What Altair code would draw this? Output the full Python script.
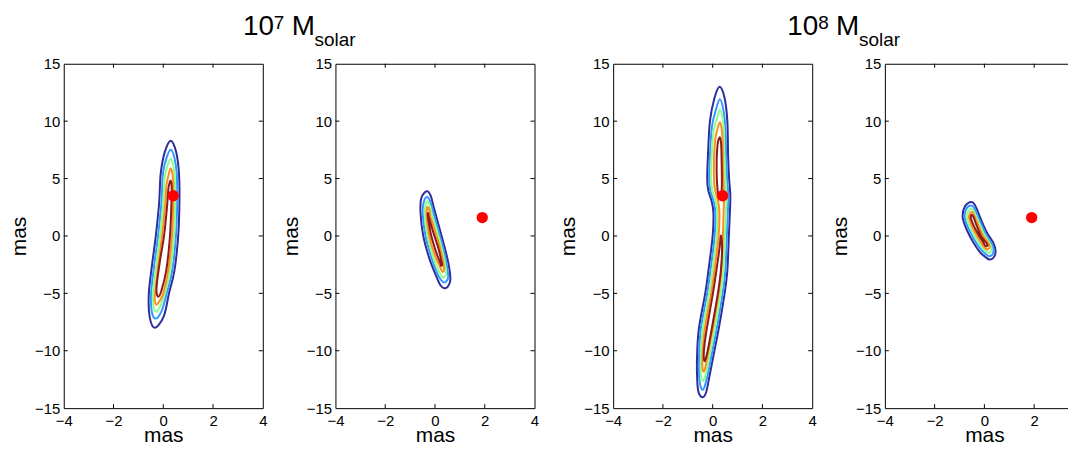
import altair as alt
import pandas as pd

FONT = "Liberation Sans"
X_TICKS = [-4, -2, 0, 2, 4]
Y_TICKS = [-15, -10, -5, 0, 5, 10, 15]
INNER_X_TICKS = [-2, 0, 2]
INNER_Y_TICKS = [-10, -5, 0, 5, 10]
LEVELS = ["c1", "c2", "c3", "c4", "c5"]
LEVEL_COLORS = ["#2d2d9c", "#3399ff", "#8cff88", "#ff8c1e", "#8c1c1c"]
TITLE_BIG = ["10", "10"]
TITLE_SUP = ["7", "8"]
TITLE_M = ["M", "M"]
TITLE_SUB = ["solar", "solar"]

# ---- panel 1 (10^7, left) ----
p1_c1 = [(0.30, 8.3), (0.52, 7.3), (0.63, 5.5), (0.65, 3.0), (0.60, 0.0), (0.45, -3.0),
         (0.23, -5.0), (0.02, -7.0), (-0.34, -8.0), (-0.55, -7.0), (-0.58, -5.0),
         (-0.45, -2.5), (-0.30, 0.0), (-0.18, 2.5), (-0.15, 3.5), (-0.10, 5.5), (0.06, 7.3)]
p1_c2 = [(0.30, 7.5), (0.45, 6.8), (0.54, 5.5), (0.56, 3.0), (0.51, 0.0), (0.36, -3.0),
         (0.14, -5.0), (-0.06, -6.5), (-0.30, -7.2), (-0.46, -6.6), (-0.49, -5.0),
         (-0.36, -2.5), (-0.21, 0.0), (-0.09, 2.5), (-0.06, 3.5), (-0.01, 5.5), (0.13, 6.8)]
p1_c3 = [(0.30, 6.7), (0.40, 6.2), (0.46, 5.2), (0.48, 3.0), (0.43, 0.0), (0.28, -3.0),
         (0.06, -5.0), (-0.12, -6.1), (-0.28, -6.6), (-0.39, -6.1), (-0.41, -5.0),
         (-0.28, -2.5), (-0.13, 0.0), (-0.01, 2.5), (0.02, 3.5), (0.06, 5.2), (0.18, 6.2)]
p1_c4 = [(0.30, 5.9), (0.37, 5.4), (0.40, 4.5), (0.40, 3.0), (0.35, 0.0), (0.20, -3.0),
         (0.00, -5.0), (-0.16, -5.7), (-0.27, -6.0), (-0.34, -5.6), (-0.33, -5.0),
         (-0.20, -2.5), (-0.05, 0.0), (0.07, 2.5), (0.10, 3.5), (0.14, 4.6), (0.22, 5.4)]
p1_c5 = [(0.30, 4.8), (0.34, 4.3), (0.33, 3.0), (0.27, 0.0), (0.12, -3.0), (-0.08, -4.8),
         (-0.20, -5.3), (-0.27, -4.9), (-0.25, -4.0), (-0.12, -2.0), (0.03, 0.0),
         (0.15, 2.5), (0.20, 4.0), (0.25, 4.6)]
p1_dot = (0.4, 3.5)

# ---- panel 2 (10^7, right) ----
p2_c1 = [(-0.33, 3.9), (-0.17, 3.5), (-0.05, 2.5), (0.14, 1.0), (0.39, -1.0), (0.55, -2.5),
         (0.62, -3.8), (0.52, -4.4), (0.37, -4.55), (0.22, -4.3), (0.05, -3.5),
         (-0.22, -2.0), (-0.47, 0.0), (-0.58, 2.0), (-0.55, 3.3)]
p2_c2 = [(-0.32, 3.4), (-0.19, 3.0), (-0.10, 2.3), (0.08, 0.9), (0.32, -1.0), (0.47, -2.5),
         (0.53, -3.6), (0.45, -3.95), (0.35, -4.05), (0.25, -3.85), (0.10, -3.3),
         (-0.14, -1.9), (-0.38, 0.0), (-0.49, 1.9), (-0.46, 2.9)]
p2_c3 = [(-0.31, 3.0), (-0.20, 2.6), (-0.14, 2.0), (0.03, 0.8), (0.26, -1.0), (0.40, -2.4),
         (0.44, -3.3), (0.38, -3.55), (0.33, -3.65), (0.26, -3.45), (0.14, -3.0),
         (-0.08, -1.8), (-0.30, 0.0), (-0.41, 1.8), (-0.39, 2.6)]
p2_c4 = [(-0.30, 2.55), (-0.22, 2.2), (-0.18, 1.7), (-0.02, 0.6), (0.20, -1.0), (0.33, -2.3),
         (0.36, -2.95), (0.32, -3.15), (0.26, -3.0), (0.18, -2.6), (-0.02, -1.6),
         (-0.23, 0.0), (-0.33, 1.6), (-0.33, 2.25)]
p2_c5 = [(-0.28, 2.0), (-0.24, 1.6), (-0.08, 0.4), (0.14, -1.1), (0.26, -2.2), (0.29, -2.5),
         (0.25, -2.6), (0.20, -2.3), (0.03, -1.3), (-0.16, 0.1), (-0.26, 1.3), (-0.29, 1.8)]
p2_dot = (1.9, 1.6)

# ---- panel 3 (10^8, left) ----
p3_c1 = [(0.28, 13.0), (0.48, 12.0), (0.59, 10.0), (0.62, 7.0), (0.66, 5.0), (0.71, 3.5),
         (0.69, 2.0), (0.65, 0.0), (0.59, -3.0), (0.48, -5.0), (0.25, -8.0), (0.07, -10.0),
         (-0.11, -12.0), (-0.26, -13.6), (-0.41, -14.05), (-0.58, -13.5), (-0.63, -12.0),
         (-0.62, -10.0), (-0.55, -8.0), (-0.30, -5.0), (-0.17, -3.0), (0.0, 0.0), (0.03, 2.0),
         (-0.04, 3.0), (-0.18, 4.0), (-0.22, 5.0), (-0.19, 7.0), (-0.11, 10.0), (0.07, 12.0)]
p3_c2 = [(0.29, 11.9), (0.43, 11.0), (0.51, 9.5), (0.54, 7.0), (0.58, 5.0), (0.63, 3.5),
         (0.61, 2.0), (0.57, 0.0), (0.51, -3.0), (0.40, -5.0), (0.17, -8.0), (-0.01, -10.0),
         (-0.19, -12.0), (-0.32, -13.1), (-0.40, -13.4), (-0.50, -13.0), (-0.55, -12.0),
         (-0.54, -10.0), (-0.47, -8.0), (-0.22, -5.0), (-0.09, -3.0), (0.08, 0.0), (0.11, 2.0),
         (0.04, 3.0), (-0.10, 4.0), (-0.14, 5.0), (-0.11, 7.0), (-0.03, 9.5), (0.13, 11.0)]
p3_c3 = [(0.29, 11.0), (0.40, 10.2), (0.45, 9.0), (0.47, 7.0), (0.51, 5.0), (0.55, 3.5),
         (0.53, 2.0), (0.49, 0.0), (0.43, -3.0), (0.32, -5.0), (0.09, -8.0), (-0.09, -10.0),
         (-0.25, -11.8), (-0.37, -12.6), (-0.46, -12.3), (-0.48, -11.5), (-0.46, -10.0),
         (-0.39, -8.0), (-0.14, -5.0), (-0.01, -3.0), (0.16, 0.0), (0.19, 2.0), (0.12, 3.0),
         (-0.02, 4.0), (-0.06, 5.0), (-0.04, 7.0), (0.03, 9.0), (0.17, 10.2)]
p3_c4 = [(0.29, 9.9), (0.37, 9.2), (0.40, 8.0), (0.41, 6.0), (0.44, 4.5), (0.46, 3.5),
         (0.44, 2.0), (0.41, 0.0), (0.35, -3.0), (0.24, -5.0), (0.01, -8.0), (-0.17, -10.0),
         (-0.28, -11.3), (-0.35, -11.8), (-0.41, -11.5), (-0.40, -10.0), (-0.31, -8.0),
         (-0.06, -5.0), (0.07, -3.0), (0.24, 0.0), (0.27, 2.0), (0.22, 3.0), (0.08, 4.2),
         (0.05, 5.5), (0.06, 7.0), (0.11, 8.5), (0.19, 9.3)]
p3_c5a = [(0.29, 8.6), (0.34, 8.0), (0.36, 6.5), (0.37, 4.5), (0.34, 3.4), (0.28, 3.2),
          (0.22, 3.6), (0.17, 4.8), (0.16, 6.5), (0.20, 8.0)]
p3_c5b = [(0.34, 0.0), (0.38, -1.0), (0.33, -3.0), (0.21, -5.0), (-0.03, -8.0), (-0.20, -10.0),
          (-0.28, -10.7), (-0.33, -10.9), (-0.36, -10.5), (-0.33, -9.5), (-0.23, -8.0),
          (0.01, -5.0), (0.15, -3.0), (0.28, -1.0), (0.31, -0.3)]
p3_dot = (0.4, 3.5)

# ---- panel 4 (10^8, right) ----
p4_c1 = [(-0.55, 2.95), (-0.38, 2.7), (-0.15, 1.5), (0.10, 0.3), (0.36, -0.6), (0.45, -1.3),
         (0.38, -1.85), (0.21, -2.05), (0.05, -1.85), (-0.18, -1.4), (-0.46, -0.5),
         (-0.72, 0.6), (-0.87, 1.6), (-0.80, 2.5)]
p4_c2 = [(-0.54, 2.65), (-0.40, 2.4), (-0.19, 1.35), (0.05, 0.2), (0.29, -0.65), (0.37, -1.25),
         (0.31, -1.65), (0.19, -1.76), (0.06, -1.6), (-0.15, -1.15), (-0.41, -0.3),
         (-0.65, 0.7), (-0.79, 1.6), (-0.73, 2.35)]
p4_c3 = [(-0.53, 2.37), (-0.42, 2.12), (-0.23, 1.2), (0.0, 0.1), (0.22, -0.65), (0.29, -1.1),
         (0.24, -1.4), (0.16, -1.47), (0.06, -1.33), (-0.12, -0.9), (-0.36, -0.1),
         (-0.58, 0.8), (-0.71, 1.6), (-0.66, 2.12)]
p4_c4 = [(-0.52, 2.1), (-0.43, 1.88), (-0.27, 1.05), (-0.05, 0.0), (0.15, -0.6), (0.21, -0.95),
         (0.17, -1.13), (0.11, -1.18), (0.03, -1.05), (-0.10, -0.7), (-0.31, 0.05),
         (-0.51, 0.9), (-0.62, 1.6), (-0.59, 1.92)]
p4_c5 = [(-0.51, 1.85), (-0.44, 1.65), (-0.31, 0.9), (-0.11, -0.1), (0.08, -0.6), (0.13, -0.82),
         (0.09, -0.9), (0.02, -0.82), (-0.06, -0.5), (-0.25, 0.15), (-0.44, 0.95),
         (-0.54, 1.5), (-0.54, 1.75)]
p4_dot = (1.9, 1.6)

PANELS = [
    ([("c1", p1_c1), ("c2", p1_c2), ("c3", p1_c3), ("c4", p1_c4), ("c5", p1_c5)], p1_dot),
    ([("c1", p2_c1), ("c2", p2_c2), ("c3", p2_c3), ("c4", p2_c4), ("c5", p2_c5)], p2_dot),
    ([("c1", p3_c1), ("c2", p3_c2), ("c3", p3_c3), ("c4", p3_c4), ("c5", p3_c5a), ("c5", p3_c5b)], p3_dot),
    ([("c1", p4_c1), ("c2", p4_c2), ("c3", p4_c3), ("c4", p4_c4), ("c5", p4_c5)], p4_dot),
]

W, H = 200, 346
xs = alt.Scale(domain=[-4, 4], nice=False, zero=False)
ys = alt.Scale(domain=[-15, 15], nice=False, zero=False)
x_axis = alt.Axis(values=X_TICKS, title="mas", format="d", labelFlush=False)
y_axis = alt.Axis(values=Y_TICKS, title="mas", format="d", labelFlush=False)


def make_panel(contours, dot):
    rows = []
    for k, (lvl, pts) in enumerate(contours):
        for i, (x, y) in enumerate(pts):
            rows.append({"level": lvl, "loop": k, "i": i, "x": x, "y": y})
    df = pd.DataFrame(rows)
    X = alt.X("x:Q", scale=xs, axis=x_axis)
    Y = alt.Y("y:Q", scale=ys, axis=y_axis)
    lines = alt.Chart(df).mark_line(interpolate="cardinal-closed", strokeWidth=2).encode(
        x=X, y=Y,
        color=alt.Color("level:N", scale=alt.Scale(domain=LEVELS, range=LEVEL_COLORS), legend=None),
        detail="loop:N",
        order="i:Q",
    )
    dotc = alt.Chart(pd.DataFrame({"x": [dot[0]], "y": [dot[1]]})).mark_circle(
        size=130, color="#ff0000", opacity=1
    ).encode(x=X, y=Y)
    xt = pd.DataFrame({"x": INNER_X_TICKS})
    yt = pd.DataFrame({"y": INNER_Y_TICKS})
    tb = alt.Chart(xt).mark_rule(color="black", strokeWidth=1).encode(
        x=X, y=alt.value(H), y2=alt.value(H - 4))
    tt = alt.Chart(xt).mark_rule(color="black", strokeWidth=1).encode(
        x=X, y=alt.value(0), y2=alt.value(4))
    tl = alt.Chart(yt).mark_rule(color="black", strokeWidth=1).encode(
        y=Y, x=alt.value(0), x2=alt.value(4))
    tr = alt.Chart(yt).mark_rule(color="black", strokeWidth=1).encode(
        y=Y, x=alt.value(W), x2=alt.value(W - 4))
    return alt.layer(lines, dotc, tb, tt, tl, tr).properties(width=W, height=H)


# title row: "10^7 M_solar" and "10^8 M_solar" (x measured from the first panel's left edge)
TITLE_X0 = [180, 727]
tbase = alt.Chart(pd.DataFrame({"a": [0]}))
tlayers = []
for k in range(2):
    x0 = TITLE_X0[k]
    tlayers += [
        tbase.mark_text(text=TITLE_BIG[k], font=FONT, fontSize=28, align="left", baseline="alphabetic", color="black")
        .encode(x=alt.value(x0), y=alt.value(27)),
        tbase.mark_text(text=TITLE_SUP[k], font=FONT, fontSize=19, align="left", baseline="alphabetic", color="black")
        .encode(x=alt.value(x0 + 31), y=alt.value(21)),
        tbase.mark_text(text=TITLE_M[k], font=FONT, fontSize=28, align="left", baseline="alphabetic", color="black")
        .encode(x=alt.value(x0 + 49), y=alt.value(27)),
        tbase.mark_text(text=TITLE_SUB[k], font=FONT, fontSize=19, align="left", baseline="alphabetic", color="black")
        .encode(x=alt.value(x0 + 72), y=alt.value(38)),
    ]
title_row = alt.layer(*tlayers).properties(width=900, height=44, view=alt.ViewBackground(stroke="transparent"))

p = [make_panel(*args) for args in PANELS]
g1 = alt.hconcat(p[0], p[1], spacing=12)
g2 = alt.hconcat(p[2], p[3], spacing=12)
row = alt.hconcat(g1, g2, spacing=18)
chart = alt.vconcat(title_row, row, spacing=3).properties(
    padding={"left": 0, "top": -2, "right": -21, "bottom": -3}
).configure_axis(
    labelFont=FONT, titleFont=FONT, labelFontSize=15, titleFontSize=21,
    titleFontWeight="normal", labelColor="black", titleColor="black",
    ticks=False, domain=False, grid=False, labelPadding=4,
).configure_axisY(titlePadding=5).configure_axisX(titlePadding=-3, labelPadding=5).configure_view(
    stroke="black", strokeWidth=1
)

chart.save("out.html", embed_options={"renderer": "svg", "actions": False})
